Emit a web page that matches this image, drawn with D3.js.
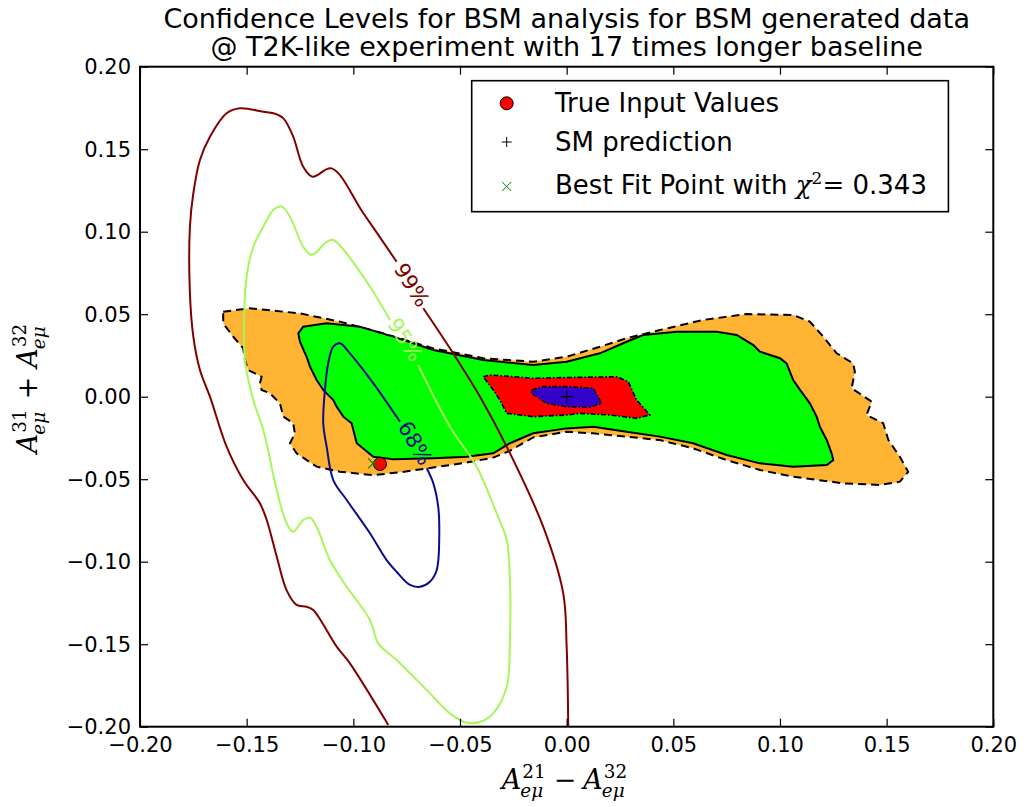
<!DOCTYPE html>
<html>
<head>
<meta charset="utf-8">
<script src="https://cdn.jsdelivr.net/npm/d3@7"></script>
<style>
  body { margin: 0; background: #fff; }
  text { font-family: "DejaVu Sans", sans-serif; }
</style>
</head>
<body>
<script>
// ---- data (axis units) ----
var xTicks = [-0.20, -0.15, -0.10, -0.05, 0.00, 0.05, 0.10, 0.15, 0.20];
var yTicks = [-0.20, -0.15, -0.10, -0.05, 0.00, 0.05, 0.10, 0.15, 0.20];

var titleLines = ["Confidence Levels for BSM analysis for BSM generated data",
                  "@ T2K-like experiment with 17 times longer baseline"];

// filled regions from the BSM fit
var regionOrange = [[-0.161,0.0515],[-0.1485,0.0536],[-0.125,0.0505],[-0.1063,0.0455],[-0.086,0.0384],
  [-0.0625,0.0293],[-0.0391,0.0233],[-0.0157,0.0212],[0,0.0242],[0.0156,0.0303],[0.0281,0.0354],
  [0.0437,0.0404],[0.064,0.0465],[0.0844,0.0501],[0.1062,0.0495],[0.114,0.0455],[0.1203,0.0364],
  [0.1266,0.0263],[0.1343,0.0202],[0.1351,0.0152],[0.1336,0.0051],[0.143,-0.003],[0.1406,-0.0111],
  [0.1484,-0.0161],[0.1508,-0.0262],[0.1562,-0.0364],[0.1601,-0.0455],[0.1562,-0.0515],[0.1469,-0.0535],
  [0.1297,-0.0525],[0.1062,-0.0485],[0.0906,-0.0444],[0.075,-0.0384],[0.0593,-0.0313],[0.0437,-0.0263],
  [0.0281,-0.0242],[0.0125,-0.0222],[0,-0.0212],[-0.0157,-0.0247],[-0.0266,-0.0328],[-0.0344,-0.0369],
  [-0.0469,-0.0399],[-0.0625,-0.0429],[-0.0781,-0.0458],[-0.0906,-0.0475],[-0.1063,-0.0455],
  [-0.1172,-0.0424],[-0.1266,-0.0343],[-0.1297,-0.0282],[-0.1274,-0.0222],[-0.1282,-0.0161],
  [-0.1328,-0.0121],[-0.1344,-0.004],[-0.1391,0.0021],[-0.143,0.0041],[-0.1438,0.0081],[-0.143,0.0121],
  [-0.1493,0.0162],[-0.1508,0.0222],[-0.1516,0.0293],[-0.1563,0.0364],[-0.161,0.0444]];

var regionGreen = [[-0.1258,0.0384],[-0.1235,0.0424],[-0.1125,0.0445],[-0.0969,0.0424],[-0.0813,0.0364],
  [-0.0625,0.0283],[-0.0391,0.0222],[-0.0157,0.0192],[0,0.0212],[0.0156,0.0263],[0.0281,0.0333],
  [0.0359,0.0374],[0.0516,0.0394],[0.0703,0.0394],[0.0797,0.0374],[0.0875,0.0313],[0.0906,0.0273],
  [0.1,0.0233],[0.1031,0.0202],[0.1062,0.0101],[0.1094,0.0041],[0.114,-0.004],[0.1172,-0.0121],
  [0.1187,-0.0182],[0.1219,-0.0262],[0.1242,-0.0343],[0.125,-0.0384],[0.1219,-0.0414],[0.1062,-0.0424],
  [0.0906,-0.0404],[0.075,-0.0353],[0.0593,-0.0282],[0.0437,-0.0242],[0.0281,-0.0212],[0.0125,-0.0182],
  [0,-0.0192],[-0.0157,-0.0222],[-0.0266,-0.0282],[-0.0344,-0.0343],[-0.0469,-0.0364],[-0.0625,-0.0373],
  [-0.0813,-0.0379],[-0.0906,-0.0364],[-0.0984,-0.0282],[-0.1008,-0.0161],[-0.1047,-0.0121],
  [-0.1078,-0.0061],[-0.1094,-0.002],[-0.1141,0.0041],[-0.1172,0.0101],[-0.1203,0.0182],
  [-0.1219,0.0242],[-0.125,0.0333]];

var regionRed = [[-0.0391,0.0121],[-0.036,0.0132],[-0.0157,0.0112],[0.0078,0.0118],[0.0234,0.0121],
  [0.0289,0.0091],[0.0328,-0.002],[0.039,-0.0111],[0.0328,-0.0131],[0.0203,-0.0111],[0.0062,-0.0101],
  [0,-0.0111],[-0.0157,-0.0121],[-0.0281,-0.0101],[-0.0313,-0.002],[-0.0344,0.0041]];

var regionBlue = [[-0.0164,0.0041],[-0.011,0.0061],[0,0.0061],[0.0125,0.0051],[0.0164,-0.004],
  [0.0109,-0.0064],[0,-0.0061],[-0.0094,-0.004],[-0.0164,0.002]];

// SM-fit confidence contours (null = label gap)
var contour99 = [[0.00075,-0.2],[0,-0.1515],[-0.0016,-0.1192],[-0.011,-0.0788],[-0.0281,-0.0303],
  [-0.0406,0],[-0.0532,0.0263],[-0.0672,0.0536],null,[-0.0797,0.0818],[-0.0953,0.1112],
  [-0.1102,0.1384],[-0.1191,0.1333],[-0.1235,0.1394],[-0.1282,0.1576],[-0.1328,0.1687],
  [-0.1375,0.1718],[-0.1422,0.1727],[-0.1531,0.1748],[-0.1594,0.1718],[-0.1672,0.1576],
  [-0.1719,0.1435],[-0.175,0.1233],[-0.1766,0.103],[-0.1766,0.0627],[-0.175,0.0364],[-0.1719,0.0162],
  [-0.1672,0],[-0.1594,-0.0303],[-0.1516,-0.0505],[-0.1438,-0.0646],[-0.1406,-0.0747],
  [-0.1359,-0.097],[-0.1313,-0.1172],[-0.1266,-0.1262],[-0.1219,-0.1273],[-0.1188,-0.1293],
  [-0.1078,-0.1515],[-0.1016,-0.1616],[-0.0836,-0.199]];

var contour95 = [[-0.0696,0.0192],[-0.0547,-0.0182],[-0.0422,-0.0424],[-0.0328,-0.0707],[-0.0281,-0.0868],
  [-0.0266,-0.1111],[-0.0266,-0.1475],[-0.0281,-0.1758],[-0.0344,-0.1919],[-0.0406,-0.197],
  [-0.0469,-0.1976],[-0.0547,-0.1919],[-0.0641,-0.1798],[-0.0797,-0.1596],[-0.0883,-0.1495],
  [-0.0922,-0.1353],[-0.1031,-0.1152],[-0.111,-0.099],[-0.1172,-0.0788],[-0.1203,-0.0733],
  [-0.1235,-0.0747],[-0.1282,-0.0818],[-0.1313,-0.0767],[-0.1359,-0.0565],[-0.1422,-0.0202],
  [-0.1469,-0.002],[-0.1508,0.0222],[-0.1511,0.0525],[-0.15,0.0727],[-0.1469,0.0909],[-0.1422,0.103],
  [-0.1375,0.1132],[-0.1336,0.1152],[-0.1297,0.1091],[-0.1235,0.0909],[-0.1195,0.0859],
  [-0.1125,0.0939],[-0.1094,0.095],[-0.0953,0.0727],[-0.0828,0.0465]];

var contour68 = [[-0.0656,-0.0434],[-0.0625,-0.0525],[-0.0602,-0.0667],[-0.0597,-0.0808],[-0.0609,-0.105],
  [-0.0641,-0.1121],[-0.0688,-0.1152],[-0.0734,-0.1141],[-0.0797,-0.1061],[-0.0844,-0.099],
  [-0.0922,-0.0828],[-0.1031,-0.0626],[-0.1094,-0.0505],[-0.1125,-0.0303],[-0.1141,-0.0161],
  [-0.1133,0.0041],[-0.1118,0.0202],[-0.1094,0.0303],[-0.1063,0.0324],[-0.1016,0.0263],
  [-0.0906,0.0081],[-0.0781,-0.0152]];

var contourLabels = [
  {text: "99%", x: -0.0727, y: 0.0676, angle: 58, color: "#800000"},
  {text: "95%", x: -0.0758, y: 0.0344, angle: 58, color: "#a6f65c"},
  {text: "68%", x: -0.0711, y: -0.0282, angle: 60, color: "#0c0c8c"}
];

var trueInput = [-0.0875, -0.0408];
var smPoint = [0, 0];
var bestFit = [-0.0907, -0.0404];
var chi2 = "0.343";

// ---- layout ----
var W = 1026, H = 807;
var x = d3.scaleLinear().domain([-0.2, 0.2]).range([140, 993.3]);
var y = d3.scaleLinear().domain([-0.2, 0.2]).range([726.7, 66.7]);

var svg = d3.select("body").append("svg")
  .attr("width", W).attr("height", H);

svg.append("defs").append("clipPath").attr("id", "plotclip")
  .append("rect").attr("x", 140).attr("y", 66.7).attr("width", 853.3).attr("height", 660);

var plot = svg.append("g").attr("clip-path", "url(#plotclip)");

var area = d3.line().x(d => x(d[0])).y(d => y(d[1])).curve(d3.curveLinearClosed);
var line = d3.line().defined(d => d !== null)
  .x(d => x(d[0])).y(d => y(d[1])).curve(d3.curveCatmullRom.alpha(0.5));

plot.append("path").datum(regionOrange).attr("d", area)
  .style("fill", "#ffb434").style("stroke", "#000").style("stroke-width", 2)
  .style("stroke-dasharray", "8,5");
plot.append("path").datum(regionGreen).attr("d", area)
  .style("fill", "#00ff00").style("stroke", "#000").style("stroke-width", 2);
plot.append("path").datum(regionRed).attr("d", area)
  .style("fill", "#ff0000").style("stroke", "#000").style("stroke-width", 1.6)
  .style("stroke-dasharray", "5,2,1.5,2");
plot.append("path").datum(regionBlue).attr("d", area)
  .style("fill", "#3300cc").style("stroke", "#000").style("stroke-width", 1.6)
  .style("stroke-dasharray", "5,2,1.5,2");

plot.append("path").datum(contour99).attr("d", line)
  .style("fill", "none").style("stroke", "#800000").style("stroke-width", 2);
plot.append("path").datum(contour95).attr("d", line)
  .style("fill", "none").style("stroke", "#a6f65c").style("stroke-width", 2);
plot.append("path").datum(contour68).attr("d", line)
  .style("fill", "none").style("stroke", "#0c0c8c").style("stroke-width", 2);

plot.selectAll(".clabel").data(contourLabels).enter().append("text")
  .attr("class", "clabel")
  .attr("transform", d => "translate(" + x(d.x) + "," + y(d.y) + ") rotate(" + d.angle + ")")
  .attr("text-anchor", "middle").attr("dominant-baseline", "central")
  .style("font-size", "21px").style("fill", d => d.color)
  .text(d => d.text);

// markers
plot.append("path")
  .attr("transform", "translate(" + x(smPoint[0]) + "," + y(smPoint[1]) + ")")
  .attr("d", "M-6,0H6M0,-6V6").style("stroke", "#000").style("stroke-width", 1.2);
plot.append("circle").attr("cx", x(trueInput[0])).attr("cy", y(trueInput[1])).attr("r", 6.5)
  .style("fill", "#ff0000").style("stroke", "#000").style("stroke-width", 1);
plot.append("path")
  .attr("transform", "translate(" + x(bestFit[0]) + "," + y(bestFit[1]) + ")")
  .attr("d", "M-5,-5L5,5M-5,5L5,-5").style("stroke", "#008000").style("stroke-width", 1.2);

// axes, ticks pointing inward on all four sides
var fmt = d3.format(".2f");
var axB = svg.append("g").attr("transform", "translate(0,726.7)")
  .call(d3.axisBottom(x).tickValues(xTicks).tickFormat(fmt).tickSize(-8).tickPadding(10));
var axT = svg.append("g").attr("transform", "translate(0,66.7)")
  .call(d3.axisTop(x).tickValues(xTicks).tickFormat("").tickSize(-8));
var axL = svg.append("g").attr("transform", "translate(140,0)")
  .call(d3.axisLeft(y).tickValues(yTicks).tickFormat(fmt).tickSize(-8).tickPadding(9));
var axR = svg.append("g").attr("transform", "translate(993.3,0)")
  .call(d3.axisRight(y).tickValues(yTicks).tickFormat("").tickSize(-8));
[axB, axT, axL, axR].forEach(function(a) {
  a.select(".domain").remove();
  a.selectAll("line").style("stroke", "#000").style("stroke-width", 1.2);
  a.selectAll("text").style("font-family", "DejaVu Sans").style("font-size", "21px").style("fill", "#000");
});
axL.selectAll("text").attr("dy", "0.34em");

svg.append("rect").attr("x", 140).attr("y", 66.7).attr("width", 853.3).attr("height", 660)
  .style("fill", "none").style("stroke", "#000").style("stroke-width", 2);

// title
svg.selectAll(".title").data(titleLines).enter().append("text")
  .attr("x", 566.7).attr("y", (d, i) => 28 + i * 28)
  .attr("text-anchor", "middle").style("font-size", "27px").text(d => d);

// math axis labels
function mathLabel(parent, pieces, size) {
  var g = parent.append("g");
  var cx = 0;
  pieces.forEach(function(p) {
    if (p.type === "A") {
      var t = g.append("text").attr("x", cx).attr("y", 0)
        .style("font-family", "DejaVu Serif").style("font-style", "italic")
        .style("font-size", size + "px").text("A");
      cx += t.node().getComputedTextLength();
      var s1 = g.append("text").attr("x", cx + 1).attr("y", -size * 0.42)
        .style("font-family", "DejaVu Serif").style("font-size", (size * 0.68) + "px").text(p.sup);
      var s2 = g.append("text").attr("x", cx - 1).attr("y", size * 0.3)
        .style("font-family", "DejaVu Serif").style("font-style", "italic")
        .style("font-size", (size * 0.68) + "px").text(p.sub);
      cx += Math.max(s1.node().getComputedTextLength(), s2.node().getComputedTextLength()) + 2;
    } else {
      cx += p.gap;
      var o = g.append("text").attr("x", cx).attr("y", 0)
        .style("font-family", "DejaVu Serif").style("font-size", size + "px").text(p.text);
      cx += o.node().getComputedTextLength() + p.gap;
    }
  });
  g.selectAll("text").attr("x", function() { return +d3.select(this).attr("x") - cx / 2; });
  return g;
}

mathLabel(svg.append("g").attr("transform", "translate(565,789)"),
  [{type: "A", sup: "21", sub: "eμ"}, {text: "−", gap: 7}, {type: "A", sup: "32", sub: "eμ"}], 27);
mathLabel(svg.append("g").attr("transform", "translate(37,388) rotate(-90)"),
  [{type: "A", sup: "31", sub: "eμ"}, {text: "+", gap: 9}, {type: "A", sup: "32", sub: "eμ"}], 27);

// legend
var leg = svg.append("g");
leg.append("rect").attr("x", 471.7).attr("y", 80.7).attr("width", 476.7).attr("height", 131)
  .style("fill", "#fff").style("stroke", "#000").style("stroke-width", 1.6);
leg.append("circle").attr("cx", 506.7).attr("cy", 103.3).attr("r", 6.5)
  .style("fill", "#ff0000").style("stroke", "#000").style("stroke-width", 1);
leg.append("path").attr("transform", "translate(506.7,142)")
  .attr("d", "M-5,0H5M0,-5V5").style("stroke", "#000").style("stroke-width", 1);
leg.append("path").attr("transform", "translate(506.7,186.5)")
  .attr("d", "M-4.5,-4.5L4.5,4.5M-4.5,4.5L4.5,-4.5").style("stroke", "#008000").style("stroke-width", 1);
leg.append("text").attr("x", 555).attr("y", 112).style("font-size", "26px").text("True Input Values");
leg.append("text").attr("x", 555).attr("y", 150.5).style("font-size", "26px").text("SM prediction");
var t3 = leg.append("text").attr("x", 555).attr("y", 194).style("font-size", "26px");
t3.append("tspan").text("Best Fit Point with ");
t3.append("tspan").style("font-family", "DejaVu Serif").style("font-style", "italic").text("χ");
t3.append("tspan").attr("dy", -10).style("font-family", "DejaVu Serif").style("font-size", "17px").text("2");
t3.append("tspan").attr("dy", 10).style("font-family", "DejaVu Serif").text("=");
t3.append("tspan").text("\u00a0" + chi2);
</script>
</body>
</html>
